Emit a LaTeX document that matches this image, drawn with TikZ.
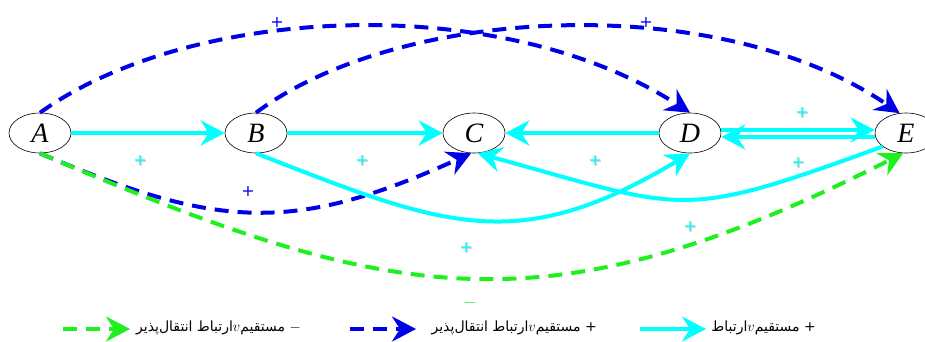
\documentclass[tikz,border=0pt]{standalone}
\usepackage{fontspec}
\usetikzlibrary{arrows.meta,shapes.geometric}
\TeXXeTstate=1
\newfontfamily\arabicfont[Script=Arabic]{DejaVu Sans}
\newfontfamily\labfont{Liberation Serif}
\newfontfamily\plusfont{DejaVu Sans}
\definecolor{cy}{RGB}{0,255,255}
\definecolor{bl}{RGB}{0,0,230}
\definecolor{gr}{RGB}{30,240,30}
\newcommand{\cplus}[2]{%
  \node[plusshadow] (#1s) at ([shift={(1,1)}]#2) {+};%
  \node[pluslabel, text=cy] (#1) at (#2) {+};}
\newcommand{\bplus}[2]{\node[pluslabel, text=bl] (#1) at (#2) {+};}
\begin{document}
\begin{tikzpicture}[x=1pt,y=-1pt,
  vert/.style={ellipse, draw=black, line width=0.6pt, fill=white,
    minimum width=62pt, minimum height=40pt, inner sep=0pt,
    font=\labfont\itshape\fontsize{28}{28}\selectfont},
  tipend/.style={-{Stealth[length=24pt,width=25pt,inset=8pt]}},
  cyanedge/.style={cy, line width=4pt, tipend},
  blueedge/.style={bl, line width=4pt, dash pattern=on 14pt off 9pt, tipend},
  greenedge/.style={gr, line width=4pt, dash pattern=on 14pt off 9pt, tipend},
  pluslabel/.style={inner sep=0pt, font=\plusfont\fontsize{16}{16}\selectfont},
  plusshadow/.style={pluslabel, text=gray!50},
  legtext/.style={anchor=east, inner sep=0pt, font=\arabicfont\fontsize{14}{16}\selectfont}
]
\useasboundingbox (0,0) rectangle (925,341);

% nodes
\node[vert] (A) at (40,133) {A};
\node[vert] (B) at (256,133) {B};
\node[vert] (C) at (474,133) {C};
\node[vert] (D) at (690,133) {D};
\node[vert] (E) at (906,133) {E};

% blue dashed curves
\draw[blueedge] (A.north) .. controls (190,5) and (500,-10) .. (D.north);
\draw[blueedge] (B.north) .. controls (400,5) and (720,-10) .. (E.108);
\draw[blueedge] (A.south) .. controls (217,229) and (293,234) .. (C.262);

% green dashed curve
\draw[greenedge] (A.south) .. controls (393,304) and (543,335) .. (E.262);

% cyan edges
\draw[cyanedge] (A) -- (B);
\draw[cyanedge] (B) -- (C);
\draw[cyanedge] (D) -- (C);
\draw[cyanedge] ([yshift=3pt]D.east) -- ([yshift=3pt]E.west);
\draw[cyanedge] ([yshift=-4pt]E.west) -- ([yshift=-4pt]D.east);
\draw[cyanedge] (B.south) .. controls (445,227) and (517,257) .. (D.south);
\draw[cyanedge] (E.210) .. controls (678,221) and (688,211) .. (C.280);

% labels
\cplus{l1}{140,160}
\cplus{l2}{362,160}
\cplus{l3}{595,160}
\cplus{l4}{802,112}
\cplus{l5}{798,162}
\cplus{l6}{466,247}
\cplus{l7}{690,226}
\bplus{b1}{277,22}
\bplus{b2}{646,22}
\bplus{b3}{248,191}
\node[pluslabel, text=gr] (g1) at (470,303) {$-$};

% legend
\coordinate (gs) at (63,329);
\coordinate (ge) at (130,329);
\draw[greenedge] (gs) -- (ge);
\node[legtext] (gt) at (301,328) {\beginR$-$ مستقیم$v$ارتباط انتقال‌پذیر\endR};
\coordinate (bs) at (350,329);
\coordinate (be) at (416,329);
\draw[blueedge] (bs) -- (be);
\node[legtext] (bt) at (597,328) {\beginR+ مستقیم$v$ارتباط انتقال‌پذیر\endR};
\coordinate (cs) at (640,329);
\coordinate (ce) at (706,329);
\draw[cyanedge] (cs) -- (ce);
\node[legtext] (ct) at (816,328) {\beginR+ مستقیم$v$ارتباط\endR};
\end{tikzpicture}
\end{document}
